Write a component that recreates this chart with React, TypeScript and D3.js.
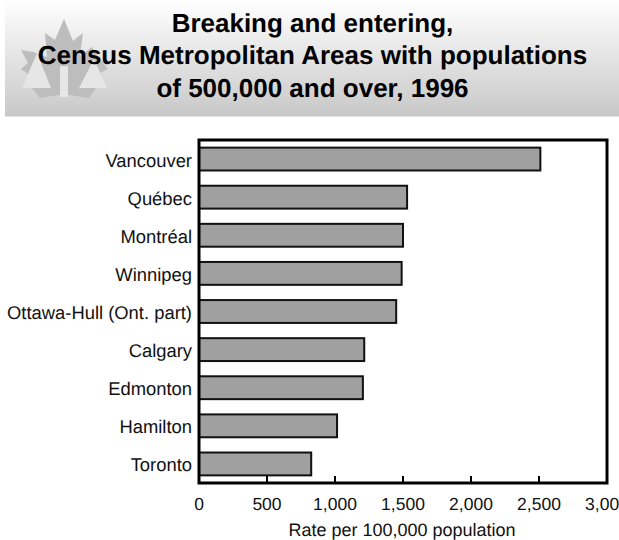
import React, { useEffect, useRef } from "react";
import * as d3 from "d3";

const titleLines = ["Breaking and entering,", "Census Metropolitan Areas with populations", "of 500,000 and over, 1996"];
const categories = ["Vancouver", "Québec", "Montréal", "Winnipeg", "Ottawa-Hull (Ont. part)", "Calgary", "Edmonton", "Hamilton", "Toronto"];
const values = [2510, 1530, 1500, 1490, 1450, 1215, 1205, 1015, 825];
const xTicks = [0, 500, 1000, 1500, 2000, 2500, 3000];
const xLabel = "Rate per 100,000 population";

const FONT = "'Liberation Sans', Arial, sans-serif";
const leaf = "M64 19 L73 41 L83 33 L80 56 L92 47 L97 55 L108 69 L100 73 L96 88 L89 98 L64 94 L40 98 L32 88 L28 74 L21 69 L28 63 L21 50 L33 52 L47 57 L45 33 L55 40 Z";

export default function App() {
  const ref = useRef<SVGSVGElement>(null);
  useEffect(() => {
    const svg = d3.select(ref.current!);
    svg.selectAll("*").remove();
    svg.attr("text-rendering", "geometricPrecision");
    const defs = svg.append("defs");
    const g = defs.append("linearGradient").attr("id", "banner").attr("x1", 0).attr("x2", 0).attr("y1", 0).attr("y2", 1);
    g.append("stop").attr("offset", 0).attr("stop-color", "#ffffff");
    g.append("stop").attr("offset", 1).attr("stop-color", "#c8c8c8");
    svg.append("rect").attr("x", 5).attr("y", 0).attr("width", 614).attr("height", 116.5).attr("fill", "url(#banner)");
    svg.append("path").attr("d", leaf).attr("fill", "#bdbdbd");
    svg.append("path").attr("d", "M22 88 L51 88 L37 53 Z M79 88 L107 88 L94 59 Z").attr("fill", "#e6e6e6");
    svg.append("rect").attr("x", 60).attr("y", 66).attr("width", 8).attr("height", 31).attr("fill", "#e6e6e6");

    svg.append("g").selectAll("text").data(titleLines).join("text")
      .attr("x", 312.5).attr("y", (_, i) => 32 + i * 32.3)
      .attr("text-anchor", "middle").attr("font-family", FONT).attr("font-weight", "bold").attr("font-size", 26)
      .attr("fill", "#000").text(d => d);

    const x = d3.scaleLinear().domain([0, 3000]).range([199, 607]);
    const y = d3.scaleBand().domain(categories).range([140, 483]).paddingInner(0.4).paddingOuter(0.2);

    svg.append("g").selectAll("rect").data(values).join("rect")
      .attr("x", x(0)).attr("y", (_, i) => y(categories[i])!)
      .attr("width", d => x(d) - x(0)).attr("height", y.bandwidth())
      .attr("fill", "#a0a0a0").attr("stroke", "#111").attr("stroke-width", 2);

    svg.append("rect").attr("x", 199).attr("y", 140).attr("width", 408).attr("height", 343)
      .attr("fill", "none").attr("stroke", "#000").attr("stroke-width", 3);

    svg.append("g").selectAll("line").data(xTicks.slice(1, -1)).join("line")
      .attr("x1", d => x(d)).attr("x2", d => x(d)).attr("y1", 483).attr("y2", 476)
      .attr("stroke", "#000").attr("stroke-width", 2);

    svg.append("g").selectAll("text").data(categories).join("text")
      .attr("x", 192).attr("y", d => y(d)! + y.bandwidth() / 2 + 7.5)
      .attr("text-anchor", "end").attr("font-family", FONT).attr("font-size", 18.4).attr("fill", "#111").text(d => d);

    svg.append("g").selectAll("text").data(xTicks).join("text")
      .attr("x", d => x(d)).attr("y", 510)
      .attr("text-anchor", "middle").attr("font-family", FONT).attr("font-size", 17.5).attr("fill", "#111")
      .text(d => d3.format(",")(d));

    svg.append("text").attr("x", 402).attr("y", 536).attr("text-anchor", "middle")
      .attr("font-family", FONT).attr("font-size", 18).attr("fill", "#111").text(xLabel);
  }, []);
  return <svg ref={ref} width={619} height={540} style={{ position: "absolute", left: 0, top: 0, background: "#fff" }} />;
}
